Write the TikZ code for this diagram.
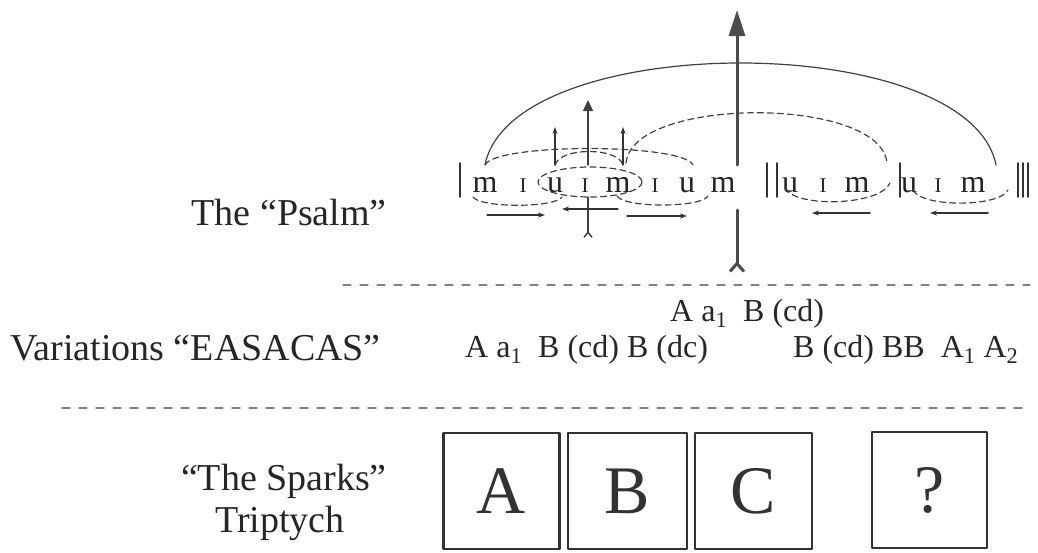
\documentclass[tikz,border=0pt]{standalone}
\usepackage{fontspec}
\setmainfont{Liberation Serif}
\usetikzlibrary{arrows.meta}
\tikzset{
  lbl/.style={font=\fontsize{38}{40}\selectfont, anchor=base east, inner sep=0, text=black!85},
  rowtxt/.style={font=\fontsize{32}{34}\selectfont, anchor=base west, inner sep=0, text=black!85},
  syl/.style={font=\fontsize{32}{34}\selectfont, anchor=base, inner sep=0, text=black!85},
  sep/.style={draw=black!50, line width=1.3, dash pattern=on 8pt off 9pt},
  dsh/.style={draw=black!75, line width=1.2, dash pattern=on 6pt off 4pt},
  panel/.style={draw=black!80, line width=2.2, minimum width=116, minimum height=116, inner sep=0, font=\fontsize{68}{70}\selectfont, text=black!80},
  tinyarr/.style={-{Stealth[length=7pt,width=5pt]}, line width=1.1, black!80},
}
\newcommand{\smI}{{\fontsize{21}{21}\selectfont I}}
\begin{document}
\begin{tikzpicture}[x=1pt, y=-1pt, line join=round, line cap=round]
	\useasboundingbox (0,0) rectangle (1038,552);
	% labels on the left
	\node[lbl] (psalm) at (387,225) {The “Psalm”};
	\node[lbl] (var) at (381,360) {Variations “EASACAS”};
	\node[lbl] (sparks) at (387,490) {“The Sparks”};
	\node[lbl, anchor=base] (trip) at (280,532) {Triptych};
	% separators
	\coordinate (sepA1) at (343,285);
	\coordinate (sepA2) at (1030,285);
	\coordinate (sepB1) at (62,408);
	\coordinate (sepB2) at (1030,408);
	\draw[sep] (sepA1) -- (sepA2);
	\draw[sep] (sepB1) -- (sepB2);
	% the psalm row
	\foreach \x/\t [count=\i] in {485/m,523/\smI,555/u,585/\smI,618/m,655/\smI,687/u,723/m,790/u,823/\smI,857/m,909/u,938/\smI,973/m}
	\node[syl] (sy\i) at (\x,192) {\t};
	\foreach \x in {460,767,777,900,1018,1023,1028}
	\draw[line width=1.8, black!80] (\x,163) -- (\x,197);
	% arcs above
	\coordinate (aL) at (485,165);
	\coordinate (aR) at (996,165);
	\coordinate (dL) at (626,163);
	\coordinate (dR) at (887,163);
	\coordinate (tR) at (693,165);
	\coordinate (uL) at (555,165);
	\coordinate (uR) at (623,165);
	\draw[line width=1.2, black!75] (aL) .. controls (512,29) and (969,29) .. (aR);
	\draw[dsh] (dL) .. controls (632,96) and (881,96) .. (dR);
	\draw[dsh] (aL) .. controls (495,143) and (683,143) .. (tR);
	\draw[dsh] (uL) .. controls (560,147) and (618,147) .. (uR);
	\draw[dsh] (590,182) ellipse[x radius=52, y radius=15];
	% arcs below
	\draw[dsh] (473,197) .. controls (480,208) and (555,208) .. (562,197);
	\draw[dsh] (617,196) .. controls (624,208) and (701,208) .. (708,196);
	\draw[dsh] (785,188) .. controls (795,208) and (880,206) .. (890,183);
	\draw[dsh] (913,190) .. controls (922,208) and (1000,207) .. (1008,190);
	% vertical arrows
	\coordinate (bT) at (737,10);
	\coordinate (bU) at (737,165);
	\coordinate (bD) at (737,210);
	\coordinate (bB) at (737,273);
	\draw[line width=3, black!70, -{Triangle[length=26pt,width=16pt]}] (bU) -- (bT);
	\draw[line width=3, black!70, {Straight Barb[reversed,length=8pt,width=14pt]}-] (bB) -- (bD);
	\coordinate (mT) at (588,100);
	\coordinate (mU) at (588,165);
	\coordinate (mD) at (588,197);
	\coordinate (mB) at (588,238);
	\draw[line width=1.5, black!75, -{Triangle[length=11pt,width=10pt]}] (mU) -- (mT);
	\draw[line width=1.5, black!75, {Straight Barb[reversed,length=5pt,width=8pt]}-] (mB) -- (mD);
	\draw[tinyarr] (uL) -- (555,127);
	\draw[tinyarr] (uR) -- (623,127);
	% horizontal arrows
	\draw[tinyarr] (487,215) -- (545,215);
	\draw[tinyarr] (618,209) -- (562,209);
	\draw[tinyarr, line width=2] (627,216) -- (687,216);
	\draw[tinyarr, line width=1.6] (870,213) -- (812,213);
	\draw[tinyarr, line width=1.6] (988,213) -- (930,213);
	% variations
	\node[rowtxt] (r1) at (670,321) {A a\textsubscript{1}\ \ B (cd)};
	\node[rowtxt] (r2) at (465,357) {A a\textsubscript{1}\ \ B (cd) B (dc)};
	\node[rowtxt] (r3) at (793,357) {B (cd) BB\ \ A\textsubscript{1} A\textsubscript{2}};
	% triptych
	\node[panel] (bxA) at (501.5,491) {A};
	\node[panel, minimum width=119] (bxB) at (627.5,491) {B};
	\node[panel, minimum width=117] (bxC) at (753.5,491) {C};
	\node[panel, minimum width=115] (bxQ) at (929.5,490) {?};
\end{tikzpicture}
\end{document}
